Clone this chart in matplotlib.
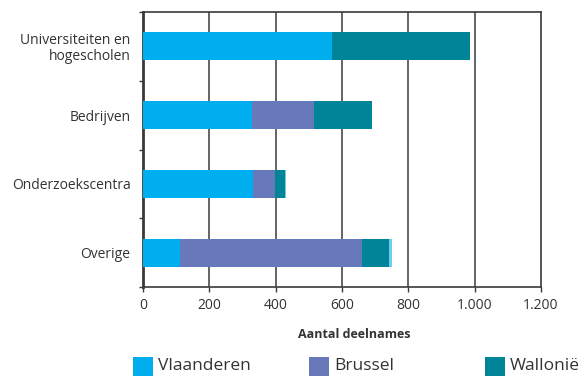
import matplotlib
matplotlib.use("Agg")
import matplotlib.pyplot as plt
from matplotlib.patches import Rectangle
import numpy as np

plt.rcParams['font.family'] = ['Open Sans', 'DejaVu Sans']

categories = ["Universiteiten en\nhogescholen", "Bedrijven", "Onderzoekscentra", "Overige"]
regions = ["Vlaanderen", "Brussel", "Wallonië"]
vlaanderen = [570, 329, 333, 112]
brussel = [0, 186, 65, 548]
wallonie = [415, 174, 30, 82]
overig = [0, 0, 3, 9]
xticks = [0, 200, 400, 600, 800, 1000, 1200]
xticklabels = ["0", "200", "400", "600", "800", "1.000", "1.200"]

colors = ["#00AEEF", "#6779BA", "#008497"]
other_color = "#6FCDF2"
text_color = "#333333"
line_color = "#3a3a3a"

fig = plt.figure(figsize=(5.86, 3.76), dpi=100)
W, H = 586, 376
ax = fig.add_axes([143 / W, 1 - 287 / H, (541 - 143) / W, (287 - 12) / H])

y = np.arange(len(categories))
left = np.zeros(len(categories))
for vals, col in zip([vlaanderen, brussel, wallonie, overig], colors + [other_color]):
    ax.barh(y, vals, left=left, height=0.41, color=col, zorder=3, linewidth=0)
    left += np.array(vals)

ax.set_ylim(len(categories) - 0.5, -0.5)
ax.set_xlim(0, 1200)

for xv in xticks[1:-1]:
    ax.axvline(xv, color=line_color, linewidth=1.1, zorder=1)

# category labels at bar centres, tick marks at category boundaries
ax.set_yticks(np.arange(len(categories) + 1) - 0.5)
ax.set_yticklabels([])
ax.set_yticks(y, minor=True)
ax.set_yticklabels(categories, minor=True, fontsize=10, color=text_color,
                   ha='right', linespacing=1.1)
ax.tick_params(axis='y', which='major', length=3, width=1, color=line_color, direction='out')
ax.tick_params(axis='y', which='minor', length=0, pad=9)

ax.set_xticks(xticks)
ax.set_xticklabels(xticklabels, fontsize=10, color=text_color)
ax.tick_params(axis='x', length=3.5, width=1, color=line_color, pad=4.5)

for side, sp in ax.spines.items():
    sp.set_color(line_color)
    sp.set_linewidth(1.2)
ax.spines['left'].set_linewidth(2)

ax.set_xlabel("Aantal deelnames", fontsize=9, fontweight='bold', color=text_color)
ax.xaxis.set_label_coords((354 - 143) / (541 - 143), -(328 - 287) / (287 - 12))

# legend row along the bottom edge
for i, (name, col) in enumerate(zip(regions, colors)):
    x0 = 133 + 176 * i
    fig.add_artist(Rectangle((x0 / W, 1 - 378 / H), 20 / W, 21 / H,
                             transform=fig.transFigure, color=col, linewidth=0))
    fig.text((x0 + 25) / W, 1 - 370 / H, name, fontsize=12.5, color=text_color,
             va='baseline', ha='left')

fig.savefig("out.png", dpi=100)
